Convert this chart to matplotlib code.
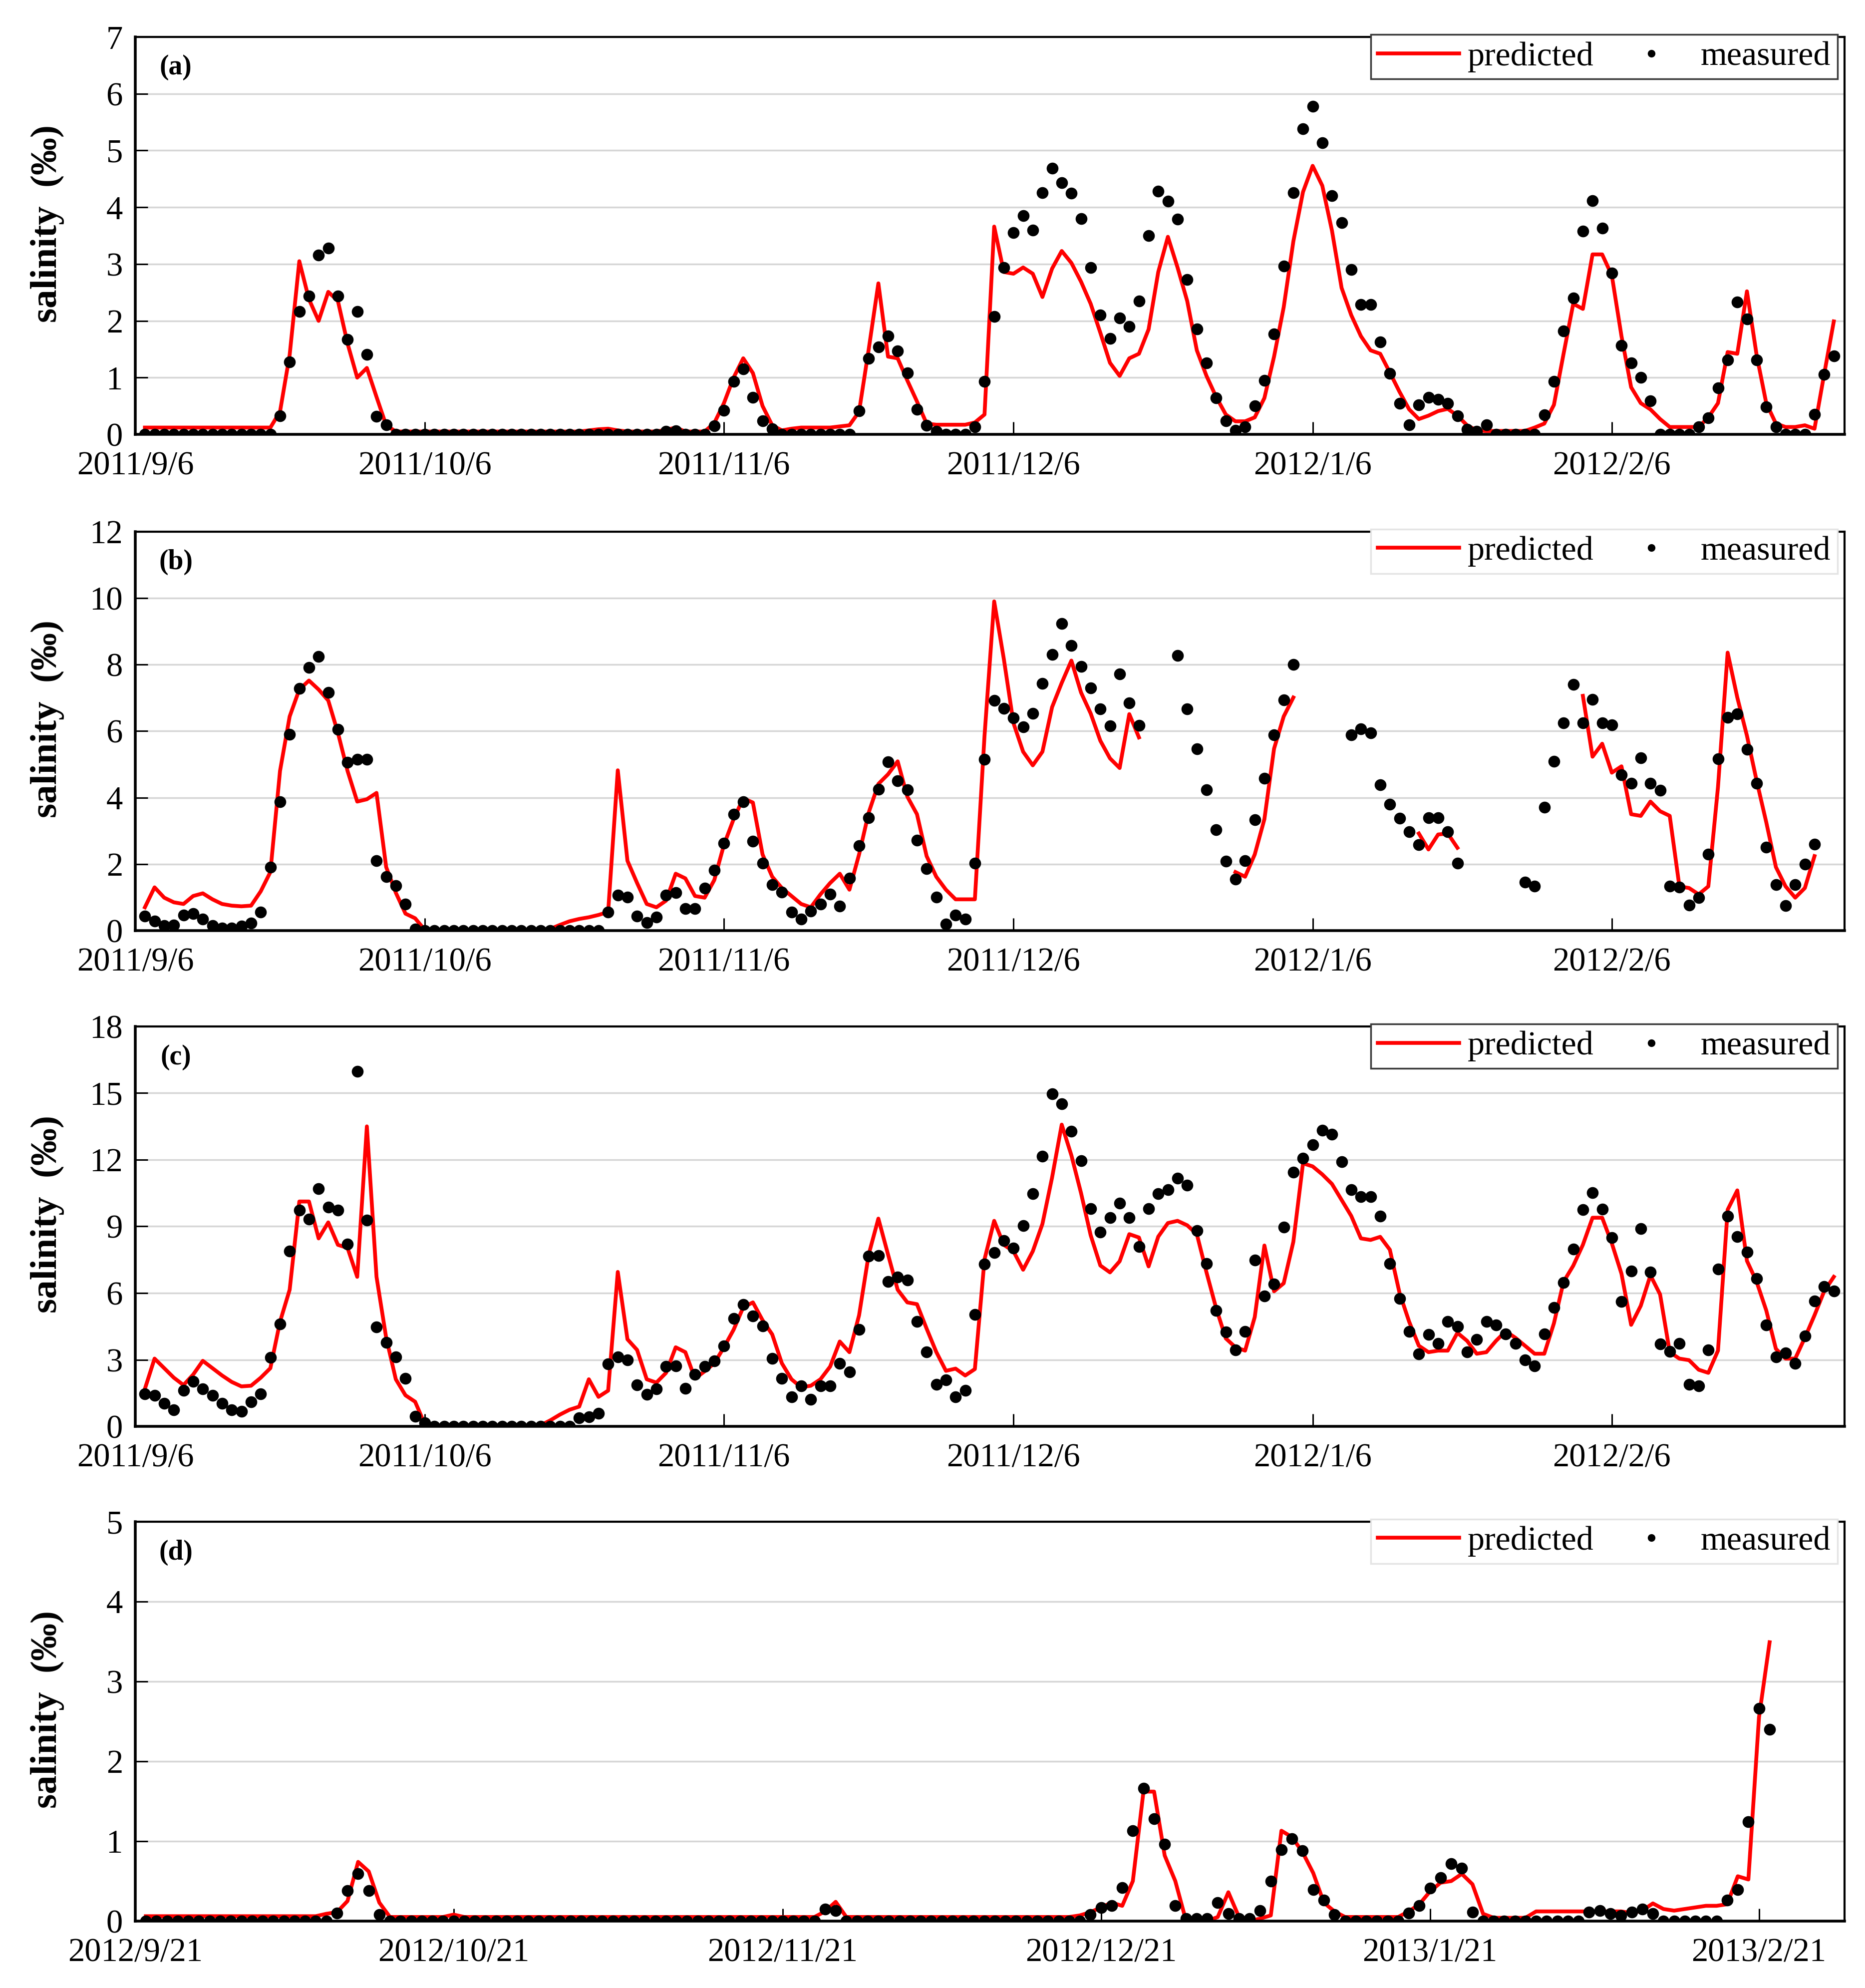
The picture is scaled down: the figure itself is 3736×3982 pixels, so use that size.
import numpy as np
import pandas as pd
import matplotlib
matplotlib.use("Agg")
import matplotlib.pyplot as plt
from matplotlib.lines import Line2D

plt.rcParams['font.family'] = ['Liberation Serif', 'DejaVu Serif']

nan = np.nan

# ---- panels (a)-(c): daily values from 2011/9/7 ----
start_abc = '2011-09-07'
ticks_abc = ['2011-09-06', '2011-10-06', '2011-11-06', '2011-12-06', '2012-01-06', '2012-02-06']
labels_abc = ['2011/9/6', '2011/10/6', '2011/11/6', '2011/12/6', '2012/1/6', '2012/2/6']

a_measured = [
    0, 0, 0, 0, 0, 0, 0, 0, 0, 0,
    0, 0, 0, 0, 0.33, 1.28, 2.16, 2.44, 3.16, 3.28,
    2.44, 1.67, 2.16, 1.41, 0.32, 0.17, 0, 0, 0, 0,
    0, 0, 0, 0, 0, 0, 0, 0, 0, 0,
    0, 0, 0, 0, 0, 0, 0, 0, 0, 0,
    0, 0, 0, 0, 0.05, 0.06, 0, 0, 0, 0.15,
    0.42, 0.93, 1.15, 0.65, 0.24, 0.1, 0, 0, 0, 0,
    0, 0, 0, 0, 0.41, 1.34, 1.54, 1.73, 1.47, 1.08,
    0.44, 0.16, 0.05, 0, 0, 0, 0.13, 0.93, 2.08, 2.94,
    3.55, 3.85, 3.6, 4.26, 4.69, 4.43, 4.25, 3.8, 2.94, 2.1,
    1.69, 2.05, 1.9, 2.35, 3.5, 4.28, 4.11, 3.79, 2.73, 1.86,
    1.26, 0.64, 0.24, 0.07, 0.13, 0.5, 0.95, 1.77, 2.96, 4.26,
    5.38, 5.78, 5.14, 4.2, 3.73, 2.9, 2.29, 2.29, 1.63, 1.07,
    0.55, 0.17, 0.52, 0.65, 0.62, 0.55, 0.33, 0.09, 0.05, 0.17,
    0, 0, 0, 0, 0, 0.34, 0.93, 1.82, 2.4, 3.58,
    4.12, 3.63, 2.84, 1.57, 1.26, 1.0, 0.59, 0, 0, 0,
    0, 0.13, 0.29, 0.82, 1.31, 2.33, 2.03, 1.31, 0.48, 0.13,
    0, 0, 0, 0.35, 1.06, 1.38,
]
a_predicted = [
    0.12, 0.12, 0.12, 0.12, 0.12, 0.12, 0.12, 0.12, 0.12, 0.12,
    0.12, 0.12, 0.12, 0.12, 0.4, 1.4, 3.05, 2.38, 2.0, 2.51,
    2.35, 1.6, 1.0, 1.17, 0.66, 0.16, 0.05, 0.05, 0.05, 0.05,
    0.05, 0.05, 0.05, 0.05, 0.05, 0.05, 0.05, 0.05, 0.05, 0.05,
    0.05, 0.05, 0.05, 0.05, 0.05, 0.05, 0.07, 0.09, 0.1, 0.07,
    0.05, 0.05, 0.05, 0.05, 0.08, 0.12, 0.05, 0.05, 0.05, 0.2,
    0.55, 1.0, 1.34, 1.08, 0.5, 0.16, 0.07, 0.1, 0.12, 0.12,
    0.12, 0.12, 0.14, 0.16, 0.4, 1.5, 2.66, 1.37, 1.34, 0.95,
    0.58, 0.19, 0.17, 0.17, 0.17, 0.17, 0.21, 0.35, 3.66, 2.86,
    2.83, 2.94, 2.83, 2.42, 2.92, 3.23, 3.02, 2.69, 2.3, 1.79,
    1.26, 1.03, 1.34, 1.42, 1.85, 2.86, 3.48, 2.94, 2.35, 1.48,
    1.03, 0.66, 0.35, 0.23, 0.23, 0.3, 0.64, 1.37, 2.24, 3.4,
    4.27, 4.73, 4.38, 3.59, 2.58, 2.1, 1.73, 1.48, 1.42, 1.09,
    0.75, 0.44, 0.27, 0.33, 0.41, 0.45, 0.33, 0.16, 0.07, 0.06,
    0.06, 0.06, 0.06, 0.06, 0.12, 0.19, 0.52, 1.42, 2.3, 2.21,
    3.17, 3.17, 2.8, 1.73, 0.83, 0.55, 0.44, 0.27, 0.13, 0.13,
    0.13, 0.13, 0.3, 0.55, 1.45, 1.42, 2.52, 1.4, 0.55, 0.19,
    0.13, 0.13, 0.16, 0.1, 1.06, 1.99,
]

b_measured = [
    0.44, 0.29, 0.15, 0.17, 0.46, 0.51, 0.34, 0.15, 0.08, 0.08,
    0.13, 0.22, 0.56, 1.91, 3.88, 5.9, 7.28, 7.91, 8.25, 7.16,
    6.05, 5.06, 5.15, 5.15, 2.1, 1.62, 1.35, 0.8, 0.05, 0,
    0, 0, 0, 0, 0, 0, 0, 0, 0, 0,
    0, 0, 0, 0, 0, 0, 0, 0, 0.56, 1.06,
    1.01, 0.44, 0.24, 0.41, 1.07, 1.14, 0.66, 0.66, 1.28, 1.81,
    2.63, 3.5, 3.88, 2.68, 2.02, 1.38, 1.16, 0.56, 0.35, 0.58,
    0.8, 1.09, 0.73, 1.57, 2.55, 3.4, 4.25, 5.07, 4.51, 4.24,
    2.71, 1.86, 1.01, 0.19, 0.46, 0.34, 2.03, 5.15, 6.92, 6.68,
    6.39, 6.12, 6.53, 7.43, 8.31, 9.23, 8.57, 7.95, 7.3, 6.66,
    6.15, 7.71, 6.84, 6.17, nan, nan, nan, 8.27, 6.66, 5.47,
    4.24, 3.04, 2.08, 1.55, 2.1, 3.33, 4.58, 5.88, 6.94, 8.0,
    nan, nan, nan, nan, nan, 5.88, 6.07, 5.95, 4.39, 3.8,
    3.38, 2.97, 2.58, 3.4, 3.4, 2.97, 2.03, nan, nan, nan,
    nan, nan, nan, 1.45, 1.33, 3.71, 5.09, 6.24, 7.4, 6.24,
    6.95, 6.24, 6.19, 4.68, 4.43, 5.2, 4.43, 4.22, 1.33, 1.3,
    0.77, 0.99, 2.29, 5.16, 6.41, 6.51, 5.45, 4.43, 2.51, 1.38,
    0.75, 1.38, 2.0, 2.6, nan, nan,
]
b_predicted = [
    0.7, 1.3, 0.99, 0.85, 0.8, 1.04, 1.12, 0.94, 0.8, 0.75,
    0.73, 0.75, 1.18, 1.76, 4.8, 6.44, 7.25, 7.52, 7.25, 6.92,
    5.95, 4.8, 3.88, 3.95, 4.14, 1.91, 1.14, 0.51, 0.37, 0.02,
    0.02, 0.02, 0.02, 0.02, 0.02, 0.02, 0.02, 0.02, 0.02, 0.02,
    0.02, 0.02, 0.05, 0.17, 0.28, 0.35, 0.4, 0.47, 0.56, 4.82,
    2.1, 1.43, 0.8, 0.7, 0.9, 1.71, 1.57, 1.04, 0.99, 1.52,
    2.58, 3.35, 3.98, 3.85, 2.29, 1.62, 1.28, 1.04, 0.8, 0.7,
    1.09, 1.43, 1.71, 1.23, 2.29, 3.55, 4.41, 4.7, 5.09, 4.03,
    3.5, 2.24, 1.62, 1.23, 0.94, 0.94, 0.94, 5.86, 9.9, 8.17,
    6.24, 5.38, 4.97, 5.38, 6.72, 7.45, 8.12, 7.16, 6.53, 5.71,
    5.18, 4.89, 6.51, 5.81, nan, nan, nan, nan, nan, nan,
    nan, nan, nan, 1.76, 1.62, 2.29, 3.35, 5.47, 6.44, 7.01,
    nan, nan, nan, nan, nan, nan, nan, nan, nan, nan,
    nan, nan, 2.92, 2.44, 2.89, 2.92, 2.49, nan, nan, nan,
    nan, nan, nan, nan, nan, nan, nan, nan, nan, 7.06,
    5.23, 5.62, 4.75, 4.94, 3.5, 3.45, 3.88, 3.59, 3.45, 1.33,
    1.28, 1.09, 1.33, 4.32, 8.36, 7.01, 5.86, 4.51, 3.26, 1.91,
    1.33, 0.99, 1.28, 2.24, nan, nan,
]

c_measured = [
    1.47, 1.4, 1.04, 0.75, 1.61, 2.02, 1.69, 1.4, 1.04, 0.75,
    0.68, 1.11, 1.47, 3.1, 4.6, 7.88, 9.73, 9.32, 10.69, 9.87,
    9.73, 8.21, 15.98, 9.29, 4.47, 3.78, 3.13, 2.16, 0.46, 0.17,
    0, 0, 0, 0, 0, 0, 0, 0, 0, 0,
    0, 0, 0, 0, 0, 0.39, 0.42, 0.59, 2.8, 3.13,
    2.98, 1.86, 1.43, 1.69, 2.69, 2.72, 1.71, 2.33, 2.69, 2.95,
    3.63, 4.86, 5.48, 4.96, 4.52, 3.05, 2.15, 1.33, 1.83, 1.21,
    1.83, 1.83, 2.84, 2.44, 4.35, 7.67, 7.69, 6.51, 6.73, 6.59,
    4.71, 3.34, 1.9, 2.09, 1.33, 1.61, 5.04, 7.31, 7.81, 8.36,
    8.03, 9.03, 10.48, 12.16, 14.97, 14.51, 13.29, 11.95, 9.8, 8.75,
    9.39, 10.04, 9.39, 8.1, 9.8, 10.48, 10.66, 11.17, 10.86, 8.82,
    7.33, 5.22, 4.25, 3.44, 4.28, 7.48, 5.86, 6.41, 8.96, 11.44,
    12.06, 12.67, 13.33, 13.14, 11.92, 10.66, 10.33, 10.33, 9.47, 7.33,
    5.75, 4.28, 3.27, 4.14, 3.73, 4.71, 4.5, 3.34, 3.92, 4.71,
    4.57, 4.16, 3.73, 2.98, 2.72, 4.16, 5.36, 6.47, 7.98, 9.76,
    10.52, 9.78, 8.49, 5.61, 6.99, 8.89, 6.95, 3.7, 3.37, 3.73,
    1.9, 1.83, 3.44, 7.09, 9.47, 8.53, 7.84, 6.66, 4.57, 3.13,
    3.3, 2.84, 4.06, 5.65, 6.3, 6.08,
]
c_predicted = [
    1.69, 3.05, 2.62, 2.19, 1.86, 2.33, 2.95, 2.62, 2.29, 2.0,
    1.8, 1.83, 2.19, 2.62, 4.71, 6.15, 10.12, 10.12, 8.46, 9.18,
    8.17, 8.03, 6.73, 13.5, 6.73, 3.99, 2.12, 1.4, 1.11, 0.1,
    0.05, 0.05, 0.05, 0.05, 0.05, 0.05, 0.05, 0.05, 0.05, 0.05,
    0.05, 0.05, 0.27, 0.53, 0.75, 0.89, 2.12, 1.33, 1.61, 6.95,
    3.92, 3.44, 2.12, 1.97, 2.41, 3.56, 3.34, 2.15, 2.48, 2.84,
    3.56, 4.35, 5.36, 5.58, 4.78, 4.14, 2.84, 2.12, 1.76, 1.83,
    2.12, 2.69, 3.82, 3.34, 5.0, 7.74, 9.35, 7.74, 6.15, 5.58,
    5.5, 4.4, 3.35, 2.5, 2.6, 2.29, 2.58, 7.52, 9.25, 8.17,
    7.88, 7.05, 7.88, 9.11, 11.2, 13.58, 12.2, 10.5, 8.6, 7.24,
    6.93, 7.43, 8.65, 8.5, 7.2, 8.54, 9.15, 9.25, 9.05, 8.65,
    6.93, 5.32, 3.96, 3.56, 3.41, 4.92, 8.14, 6.08, 6.44, 8.31,
    11.84, 11.7, 11.34, 10.91, 10.19, 9.47, 8.46, 8.39, 8.53, 7.95,
    6.01, 4.71, 3.63, 3.34, 3.41, 3.41, 4.21, 3.85, 3.27, 3.34,
    3.85, 4.28, 3.99, 3.63, 3.27, 3.27, 4.64, 6.51, 7.23, 8.17,
    9.39, 9.39, 8.24, 6.87, 4.57, 5.43, 6.8, 5.94, 3.34, 3.05,
    2.98, 2.55, 2.41, 3.41, 9.75, 10.62, 7.45, 6.51, 5.22, 3.49,
    3.05, 3.05, 3.99, 5.0, 6.08, 6.73,
]

# ---- panel (d): daily values from 2012/9/22 ----
start_d = '2012-09-22'
ticks_d = ['2012-09-21', '2012-10-21', '2012-11-21', '2012-12-21', '2013-01-21', '2013-02-21']
labels_d = ['2012/9/21', '2012/10/21', '2012/11/21', '2012/12/21', '2013/1/21', '2013/2/21']

d_measured = [
    0, 0, 0, 0, 0, 0, 0, 0, 0, 0,
    0, 0, 0, 0, 0, 0, 0, 0, 0.1, 0.38,
    0.59, 0.38, 0.08, 0, 0, 0, 0, 0, 0, 0,
    0, 0, 0, 0, 0, 0, 0, 0, 0, 0,
    0, 0, 0, 0, 0, 0, 0, 0, 0, 0,
    0, 0, 0, 0, 0, 0, 0, 0, 0, 0,
    0, 0, 0, 0, 0.15, 0.13, 0, 0, 0, 0,
    0, 0, 0, 0, 0, 0, 0, 0, 0, 0,
    0, 0, 0, 0, 0, 0, 0, 0, 0, 0.08,
    0.17, 0.19, 0.42, 1.13, 1.66, 1.28, 0.96, 0.19, 0.03, 0.03,
    0.03, 0.23, 0.09, 0.03, 0.03, 0.13, 0.5, 0.89, 1.03, 0.88,
    0.39, 0.26, 0.08, 0, 0, 0, 0, 0, 0, 0.1,
    0.19, 0.41, 0.54, 0.72, 0.66, 0.11, 0, 0, 0, 0,
    0, 0, 0, 0, 0, 0, 0.11, 0.13, 0.09, 0.07,
    0.11, 0.15, 0.09, 0, 0, 0, 0, 0, 0, 0.26,
    0.39, 1.24, 2.66, 2.4,
]
d_predicted = [
    0.06, 0.06, 0.06, 0.06, 0.06, 0.06, 0.06, 0.06, 0.06, 0.06,
    0.06, 0.06, 0.06, 0.06, 0.06, 0.06, 0.06, 0.09, 0.11, 0.25,
    0.74, 0.62, 0.23, 0.05, 0.05, 0.05, 0.05, 0.05, 0.05, 0.08,
    0.05, 0.05, 0.05, 0.05, 0.05, 0.05, 0.05, 0.05, 0.05, 0.05,
    0.05, 0.05, 0.05, 0.05, 0.05, 0.05, 0.05, 0.05, 0.05, 0.05,
    0.05, 0.05, 0.05, 0.05, 0.05, 0.05, 0.05, 0.05, 0.05, 0.05,
    0.05, 0.05, 0.05, 0.05, 0.12, 0.24, 0.05, 0.05, 0.05, 0.05,
    0.05, 0.05, 0.05, 0.05, 0.05, 0.05, 0.05, 0.05, 0.05, 0.05,
    0.05, 0.05, 0.05, 0.05, 0.05, 0.05, 0.05, 0.05, 0.07, 0.11,
    0.17, 0.23, 0.19, 0.5, 1.62, 1.62, 0.82, 0.5, 0.01, 0.0,
    0.0, 0.05, 0.36, 0.05, 0.0, 0.03, 0.07, 1.13, 1.05, 0.86,
    0.6, 0.23, 0.12, 0.05, 0.05, 0.05, 0.05, 0.05, 0.05, 0.12,
    0.21, 0.37, 0.48, 0.5, 0.59, 0.46, 0.09, 0.04, 0.04, 0.04,
    0.04, 0.12, 0.12, 0.12, 0.12, 0.12, 0.12, 0.12, 0.12, 0.12,
    0.1, 0.13, 0.22, 0.15, 0.13, 0.15, 0.17, 0.19, 0.19, 0.21,
    0.56, 0.52, 2.55, 3.49,
]

panels = [
    dict(tag='(a)', pred=a_predicted, meas=a_measured, start=start_abc, ymax=7, ystep=1,
         ticks=ticks_abc, labels=labels_abc, x0='2011-09-06', span=177.1, edge='#3a3a3a'),
    dict(tag='(b)', pred=b_predicted, meas=b_measured, start=start_abc, ymax=12, ystep=2,
         ticks=ticks_abc, labels=labels_abc, x0='2011-09-06', span=177.1, edge='#e4e4e4'),
    dict(tag='(c)', pred=c_predicted, meas=c_measured, start=start_abc, ymax=18, ystep=3,
         ticks=ticks_abc, labels=labels_abc, x0='2011-09-06', span=177.1, edge='#3a3a3a'),
    dict(tag='(d)', pred=d_predicted, meas=d_measured, start=start_d, ymax=5, ystep=1,
         ticks=ticks_d, labels=labels_d, x0='2012-09-21', span=161.05, edge='#e4e4e4'),
]

fig = plt.figure(figsize=(37.37, 39.82), dpi=100)

# axes boxes in figure fractions: bottom, height
boxes = [(0.7815, 0.1999), (0.5319, 0.2007), (0.2825, 0.2012), (0.0337, 0.2009)]
left, width = 0.0725, 0.9162

for p, (bot, h) in zip(panels, boxes):
    ax = fig.add_axes([left, bot, width, h])
    x = pd.date_range(p['start'], periods=len(p['pred']), freq='D')
    ax.plot(x, p['pred'], color='#ff0000', lw=5.5, zorder=2)
    ax.plot(x, p['meas'], 'o', color='black', ms=16, zorder=3)

    x0 = pd.Timestamp(p['x0'])
    ax.set_xlim(x0, x0 + pd.Timedelta(days=p['span']))
    ax.set_ylim(0, p['ymax'])
    ax.set_yticks(np.arange(0, p['ymax'] + 0.1, p['ystep']))
    ax.set_xticks(pd.to_datetime(p['ticks']))
    ax.set_xticklabels(p['labels'])

    ax.yaxis.grid(True, color='#d6d6d6', lw=2.5)
    ax.set_axisbelow(True)
    ax.tick_params(axis='both', direction='in', length=18, width=2.2, labelsize=48, pad=18)
    ax.tick_params(axis='x', pad=24)
    for side in ['left', 'bottom']:
        ax.spines[side].set_linewidth(4)
    for side in ['top', 'right']:
        ax.spines[side].set_linewidth(3)

    ax.text(-0.0515, 0.53, 'salinity  (\u2030)', transform=ax.transAxes, rotation=90,
            ha='center', va='center', fontsize=54, fontweight='bold')
    ax.text(0.0237, 0.923, p['tag'], transform=ax.transAxes, ha='center', va='center',
            fontsize=40, fontweight='bold')

    handles = [Line2D([], [], color='#ff0000', lw=5.5),
               Line2D([], [], ls='none', marker='o', color='black', ms=10)]
    leg = ax.legend(handles, ['predicted', 'measured'], loc='upper right', ncol=2,
                    bbox_to_anchor=(0.996, 1.006), borderaxespad=0, fontsize=49,
                    handlelength=2.4, handletextpad=0.25, columnspacing=0.5,
                    borderpad=0.2, fancybox=False, framealpha=1)
    leg.get_frame().set_edgecolor(p['edge'])
    leg.get_frame().set_linewidth(2.5)

fig.savefig('out.png', dpi=100)
